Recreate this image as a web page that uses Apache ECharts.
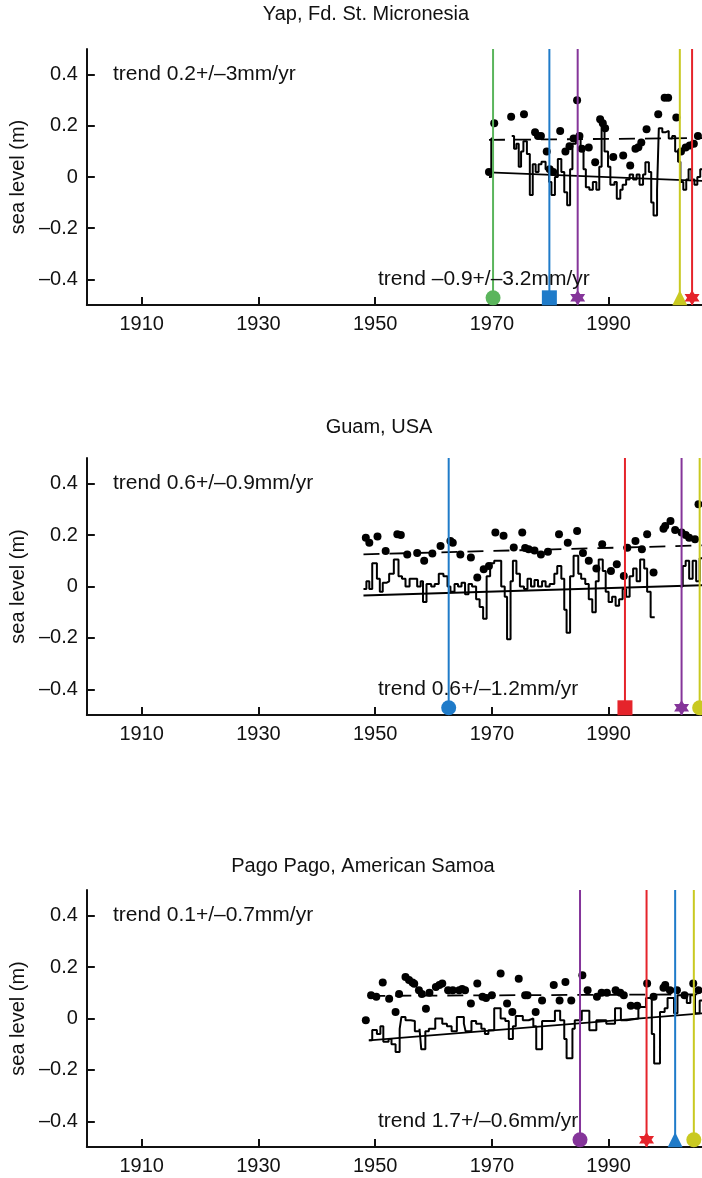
<!DOCTYPE html>
<html>
<head>
<meta charset="utf-8">
<script src="https://cdn.jsdelivr.net/npm/echarts@6/dist/echarts.min.js"></script>
<style>
html, body { margin: 0; padding: 0; background: #fff; }
#chart { width: 702px; height: 1178px; }
</style>
</head>
<body>
<div id="chart"></div>
<script>
// tick labels
var yearTicks = [1910, 1930, 1950, 1970, 1990];
var levelTicks = [-0.4, -0.2, 0, 0.2, 0.4];

// ---- Yap, Fd. St. Micronesia ----
// stepped record: [start year, level], null = gap
var yapSteps = [
  [1969.5, 0.0], [1969.9, 0.15], [1970.3, null],
  [1973.4, 0.16], [1973.8, 0.11], [1974.2, 0.13], [1974.6, 0.04], [1975.0, 0.10], [1975.4, 0.14],
  [1976.0, 0.09], [1976.5, -0.07], [1977.0, 0.05], [1977.5, 0.02], [1978.0, 0.05], [1978.5, 0.06],
  [1979.2, 0.03], [1979.8, -0.02], [1980.2, -0.07], [1980.8, 0.0], [1981.3, 0.07], [1981.9, 0.02],
  [1982.4, -0.06], [1982.9, -0.11], [1983.4, 0.03], [1983.8, 0.13], [1984.4, 0.16], [1985.2, 0.12],
  [1985.7, 0.03], [1986.1, -0.04], [1986.7, -0.05], [1987.3, -0.02], [1987.9, -0.05], [1988.4, 0.04],
  [1988.8, 0.20], [1989.3, 0.10], [1989.9, 0.04], [1990.3, -0.03], [1991.0, -0.02], [1991.4, -0.085],
  [1992.0, -0.05], [1992.4, -0.03], [1993.0, -0.01], [1993.6, 0.01], [1994.2, -0.01], [1994.8, 0.01],
  [1995.3, -0.03], [1995.9, 0.01], [1996.3, 0.058], [1996.9, 0.02], [1997.3, -0.10], [1997.7, -0.15],
  [1998.3, -0.05], [1998.6, 0.19], [1999.2, 0.175], [1999.8, 0.18], [2000.3, 0.15], [2000.9, 0.16],
  [2001.4, 0.10], [2001.9, 0.06], [2002.3, -0.02], [2002.8, -0.05], [2003.3, -0.01], [2003.7, 0.03],
  [2004.2, -0.01], [2004.7, -0.03], [2005.2, 0.0], [2005.7, 0.03], [2006.2, null]
];
var yapDots = [
  [1969.5, 0.02], [1970.4, 0.21], [1973.3, 0.235], [1975.5, 0.245], [1977.4, 0.175], [1977.9, 0.16],
  [1978.4, 0.16], [1979.4, 0.10], [1979.9, 0.03], [1980.5, 0.02], [1981.7, 0.18], [1982.6, 0.10],
  [1983.3, 0.12], [1984.0, 0.15], [1984.6, 0.30], [1985.0, 0.16], [1985.4, 0.11], [1986.6, 0.115],
  [1987.7, 0.058], [1988.55, 0.226], [1989.0, 0.21], [1989.4, 0.19], [1990.8, 0.078], [1992.5, 0.084],
  [1993.7, 0.045], [1994.6, 0.11], [1995.1, 0.116], [1995.6, 0.135], [1996.5, 0.187], [1998.5, 0.245],
  [1999.6, 0.31], [2000.2, 0.31], [2001.6, 0.232], [2002.4, 0.10], [2003.2, 0.115], [2003.9, 0.123],
  [2004.6, 0.13], [2005.3, 0.16]
];
var yapTrend = [[1969.5, 0.018], [2006.2, -0.015]];
var yapUpperTrend = [[1969.5, 0.145], [2006.2, 0.152]];
var yapEvents = [1970.2, 1979.85, 1984.7, 2002.2, 2004.3];

// ---- Guam, USA ----
var guamSteps = [
  [1948.0, -0.01], [1948.5, 0.02], [1949.0, -0.01], [1949.5, 0.09], [1950.3, 0.03], [1950.8, -0.02],
  [1951.3, 0.015], [1952.0, 0.02], [1952.4, 0.05], [1953.2, 0.105], [1954.0, 0.04], [1954.6, 0.03],
  [1955.2, 0.0], [1955.9, 0.03], [1956.6, 0.03], [1957.2, 0.0], [1957.8, 0.02], [1958.2, -0.06],
  [1958.8, 0.01], [1959.6, 0.0], [1960.2, 0.01], [1960.9, 0.05], [1961.7, 0.04], [1962.4, 0.0],
  [1962.9, -0.02], [1963.6, 0.01], [1964.2, 0.0], [1964.8, 0.015], [1965.4, -0.03], [1966.0, 0.01],
  [1966.6, 0.0], [1967.3, -0.05], [1967.9, -0.08], [1968.5, -0.125], [1969.1, 0.04], [1969.7, 0.09],
  [1970.4, 0.10], [1971.6, 0.0], [1972.2, -0.04], [1972.6, -0.205], [1973.2, 0.02], [1973.6, 0.10],
  [1974.2, 0.05], [1974.8, 0.0], [1975.5, -0.01], [1976.1, 0.03], [1976.7, 0.0], [1977.3, 0.025],
  [1977.9, 0.0], [1978.6, 0.02], [1979.2, 0.0], [1979.9, 0.01], [1980.7, 0.05], [1981.2, 0.08],
  [1981.9, 0.03], [1982.4, -0.09], [1982.8, -0.18], [1983.4, 0.04], [1984.0, 0.12], [1984.8, 0.05],
  [1985.3, 0.03], [1986.0, 0.01], [1986.6, -0.05], [1987.2, -0.10], [1987.8, 0.02], [1988.3, 0.105],
  [1989.0, 0.06], [1989.5, -0.02], [1990.0, -0.06], [1990.6, -0.04], [1991.2, -0.075], [1991.8, -0.05],
  [1992.4, -0.01], [1993.0, -0.04], [1993.6, 0.04], [1994.2, 0.07], [1994.8, 0.02], [1995.4, 0.105],
  [1996.1, 0.07], [1996.6, -0.02], [1997.2, -0.12], [1997.9, null],
  [2002.3, 0.0], [2002.7, 0.08], [2003.2, 0.10], [2003.8, 0.03], [2004.4, 0.10], [2005.0, 0.02],
  [2005.6, 0.11], [2006.2, null]
];
var guamDots = [
  [1948.4, 0.19], [1949.0, 0.17], [1950.4, 0.195], [1951.8, 0.138], [1953.8, 0.203], [1954.4, 0.20],
  [1955.5, 0.125], [1957.2, 0.13], [1958.4, 0.10], [1959.8, 0.128], [1961.2, 0.158], [1962.9, 0.177],
  [1963.3, 0.17], [1964.6, 0.125], [1966.4, 0.113], [1967.5, 0.035], [1968.6, 0.067], [1969.5, 0.08],
  [1970.6, 0.21], [1972.0, 0.197], [1973.75, 0.152], [1975.2, 0.21], [1975.7, 0.15], [1976.3, 0.145],
  [1977.3, 0.14], [1978.4, 0.125], [1979.6, 0.135], [1981.5, 0.203], [1983.0, 0.17], [1984.6, 0.216],
  [1985.6, 0.13], [1986.6, 0.10], [1987.9, 0.07], [1988.9, 0.164], [1990.4, 0.06], [1991.4, 0.087],
  [1992.6, 0.041], [1993.2, 0.151], [1994.6, 0.177], [1995.7, 0.145], [1996.6, 0.203], [1997.7, 0.054],
  [1999.4, 0.225], [1999.7, 0.235], [2000.6, 0.255], [2001.4, 0.22], [2002.5, 0.21], [2003.2, 0.20],
  [2003.8, 0.19], [2004.8, 0.184], [2005.4, 0.32]
];
var guamTrend = [[1948.0, -0.035], [2006.2, 0.005]];
var guamUpperTrend = [[1948.0, 0.125], [2006.2, 0.16]];
var guamEvents = [1962.6, 1992.8, 2002.5, 2005.6];

// ---- Pago Pago, American Samoa ----
var pagoSteps = [
  [1948.9, -0.085], [1949.5, -0.045], [1950.3, -0.06], [1950.9, -0.03], [1951.4, -0.09], [1952.3, -0.08],
  [1952.8, -0.10], [1953.5, -0.13], [1954.2, -0.04], [1954.5, 0.006], [1955.2, -0.007], [1956.1, -0.01],
  [1956.8, -0.05], [1957.6, -0.04], [1957.9, -0.12], [1958.6, -0.05], [1959.2, -0.04], [1960.3, 0.0],
  [1961.5, -0.02], [1962.3, -0.03], [1963.1, -0.05], [1964.0, 0.006], [1965.2, -0.02], [1965.5, -0.05],
  [1966.5, -0.01], [1967.3, -0.02], [1968.2, -0.04], [1968.8, -0.06], [1969.4, -0.046], [1970.4, 0.04],
  [1971.5, 0.0], [1972.3, -0.01], [1972.9, -0.08], [1973.6, -0.03], [1974.1, 0.01], [1975.3, -0.007],
  [1976.3, 0.0], [1977.1, -0.03], [1977.6, -0.12], [1978.6, -0.01], [1979.5, -0.01], [1980.8, 0.03],
  [1981.7, -0.007], [1982.4, -0.08], [1982.8, -0.155], [1983.8, -0.04], [1984.2, -0.007], [1985.4, 0.03],
  [1986.7, -0.046], [1987.9, -0.007], [1989.6, -0.02], [1991.1, 0.04], [1992.1, -0.007], [1993.1, 0.0],
  [1995.1, 0.045], [1996.4, 0.08], [1997.4, -0.06], [1997.8, -0.175], [1998.8, 0.025], [1999.6, 0.04],
  [2000.1, 0.08], [2001.2, 0.02], [2001.8, 0.09], [2003.4, 0.06], [2004.0, 0.09], [2004.8, 0.02],
  [2005.6, 0.07], [2006.2, null]
];
var pagoDots = [
  [1948.4, -0.007], [1949.3, 0.09], [1950.2, 0.085], [1951.3, 0.14], [1952.4, 0.077], [1953.5, 0.025],
  [1954.1, 0.095], [1955.2, 0.161], [1955.8, 0.15], [1956.4, 0.14], [1956.7, 0.135], [1957.5, 0.11],
  [1958.0, 0.095], [1958.7, 0.038], [1959.3, 0.10], [1960.4, 0.123], [1961.0, 0.13], [1961.5, 0.136],
  [1962.5, 0.11], [1963.3, 0.11], [1964.4, 0.11], [1964.9, 0.115], [1965.4, 0.11], [1966.4, 0.058],
  [1967.5, 0.136], [1968.4, 0.085], [1969.0, 0.08], [1970.0, 0.09], [1971.5, 0.175], [1972.6, 0.058],
  [1973.5, 0.025], [1974.6, 0.155], [1975.7, 0.09], [1976.1, 0.09], [1977.5, 0.025], [1978.6, 0.07],
  [1980.6, 0.13], [1981.6, 0.07], [1982.6, 0.142], [1983.6, 0.07], [1985.5, 0.168], [1986.4, 0.11],
  [1988.0, 0.085], [1988.8, 0.10], [1989.7, 0.10], [1991.2, 0.11], [1992.0, 0.10], [1992.6, 0.09],
  [1993.8, 0.05], [1994.9, 0.05], [1996.6, 0.136], [1997.7, 0.085], [1999.4, 0.12], [1999.7, 0.13],
  [2000.5, 0.11], [2001.7, 0.11], [2003.0, 0.09], [2004.5, 0.136], [2005.4, 0.11]
];
var pagoTrend = [[1949.0, -0.085], [2006.2, 0.02]];
var pagoUpperTrend = [[1949.0, 0.088], [2006.2, 0.094]];
var pagoEvents = [1985.1, 1996.5, 2001.4, 2004.6];

// colours / markers for the event lines
var GREEN = '#5bb55c', BLUE = '#1f7bc9', PURPLE = '#85359a', YELLOW = '#c9c921', RED = '#e5242b';
var STAR = 'path://M0,-10 L2.9,-5 L8.7,-5 L5.8,0 L8.7,5 L2.9,5 L0,10 L-2.9,5 L-8.7,5 L-5.8,0 L-8.7,-5 L-2.9,-5 Z';
var FONT = '"Liberation Sans", Arial, Helvetica, sans-serif';
var INK = '#111';

var panels = [
    {
        title: 'Yap, Fd. St. Micronesia', titleX: 366, titleY: 14, top: 49, height: 256,
        steps: yapSteps, dots: yapDots, trend: yapTrend, upper: yapUpperTrend, events: yapEvents,
        look: [[GREEN, 'circle'], [BLUE, 'rect'], [PURPLE, STAR], [YELLOW, 'triangle'], [RED, STAR]],
        textUp: 'trend 0.2+/\u20133mm/yr', textLow: 'trend \u20130.9+/\u20133.2mm/yr'
    },
    {
        title: 'Guam, USA', titleX: 379, titleY: 427, top: 458, height: 257,
        steps: guamSteps, dots: guamDots, trend: guamTrend, upper: guamUpperTrend, events: guamEvents,
        look: [[BLUE, 'circle'], [RED, 'rect'], [PURPLE, STAR], [YELLOW, 'circle']],
        textUp: 'trend 0.6+/\u20130.9mm/yr', textLow: 'trend 0.6+/\u20131.2mm/yr'
    },
    {
        title: 'Pago Pago, American Samoa', titleX: 363, titleY: 866, top: 890, height: 257,
        steps: pagoSteps, dots: pagoDots, trend: pagoTrend, upper: pagoUpperTrend, events: pagoEvents,
        look: [[PURPLE, 'circle'], [RED, STAR], [BLUE, 'triangle'], [YELLOW, 'circle']],
        textUp: 'trend 0.1+/\u20130.7mm/yr', textLow: 'trend 1.7+/\u20130.6mm/yr'
    }
];

// turn [start, value] pairs into a stair polyline, breaking at nulls
function stairs(steps) {
    var out = [];
    for (var i = 0; i < steps.length - 1; i++) {
        if (steps[i][1] === null) {
            out.push('-');
            continue;
        }
        out.push([steps[i][0], steps[i][1]]);
        out.push([steps[i + 1][0], steps[i][1]]);
    }
    return out;
}

function fmtLevel(v) {
    if (v === 0) return '0';
    return v < 0 ? '\u2013' + (-v) : String(v);
}

var grids = [], xAxes = [], yAxes = [], series = [], graphics = [];

panels.forEach(function (p, i) {
    grids.push({ left: 85, top: p.top, width: 617, height: p.height });
    xAxes.push({
        type: 'value', gridIndex: i, min: 1900.6, max: 2006,
        axisLine: { onZero: false, lineStyle: { color: INK, width: 2 } },
        axisTick: { inside: true, length: 8, customValues: yearTicks, lineStyle: { color: INK, width: 2 } },
        axisLabel: {
            customValues: yearTicks, margin: 9, fontSize: 20, color: INK, fontFamily: FONT,
            formatter: function (v) { return String(v); }
        },
        splitLine: { show: false }
    });
    yAxes.push({
        type: 'value', gridIndex: i, min: -0.5, max: 0.5,
        name: 'sea level (m)', nameLocation: 'middle', nameGap: 57,
        nameTextStyle: { fontSize: 20, color: INK, fontFamily: FONT },
        axisLine: { onZero: false, lineStyle: { color: INK, width: 2 } },
        axisTick: { inside: true, length: 8, customValues: levelTicks, lineStyle: { color: INK, width: 2 } },
        axisLabel: { customValues: levelTicks, margin: 9, fontSize: 20, color: INK, fontFamily: FONT, formatter: fmtLevel },
        splitLine: { show: false }
    });

    series.push({
        type: 'line', xAxisIndex: i, yAxisIndex: i, data: p.upper, symbol: 'none', silent: true,
        lineStyle: { color: '#000', width: 1.8, type: [16, 10] }, z: 2
    });
    series.push({
        type: 'line', xAxisIndex: i, yAxisIndex: i, data: p.trend, symbol: 'none', silent: true,
        lineStyle: { color: '#000', width: 1.8 }, z: 2
    });
    series.push({
        type: 'line', xAxisIndex: i, yAxisIndex: i, data: stairs(p.steps), symbol: 'none', silent: true,
        connectNulls: false, lineStyle: { color: '#000', width: 2 }, z: 3
    });
    series.push({
        type: 'scatter', xAxisIndex: i, yAxisIndex: i, data: p.dots, symbol: 'circle', symbolSize: 8,
        itemStyle: { color: '#000', opacity: 1 }, silent: true, z: 4
    });

    var marks = [];
    p.events.forEach(function (yr, k) {
        var col = p.look[k][0];
        series.push({
            type: 'line', xAxisIndex: i, yAxisIndex: i, data: [[yr, -0.5], [yr, 0.5]], symbol: 'none',
            silent: true, lineStyle: { color: col, width: 2 }, z: 5
        });
        marks.push({ value: [yr, -0.472], symbol: p.look[k][1], itemStyle: { color: col, opacity: 1 } });
    });
    series.push({
        type: 'scatter', xAxisIndex: i, yAxisIndex: i, data: marks, symbolSize: 15, silent: true, clip: false, z: 6
    });

    var zeroY = p.top + p.height / 2;
    var scale = p.height;
    graphics.push({
        type: 'text', x: p.titleX, y: p.titleY,
        style: { text: p.title, fontSize: 20, fill: INK, fontFamily: FONT, align: 'center', verticalAlign: 'middle' }
    });
    graphics.push({
        type: 'text', x: 113, y: zeroY - 0.4 * scale,
        style: { text: p.textUp, fontSize: 21, fill: INK, fontFamily: FONT, align: 'left', verticalAlign: 'middle' }
    });
    graphics.push({
        type: 'text', x: 378, y: zeroY + 0.4 * scale, z: 10,
        style: { text: p.textLow, fontSize: 21, fill: INK, fontFamily: FONT, align: 'left', verticalAlign: 'middle' }
    });
});

var mychart = echarts.init(document.getElementById('chart'));
mychart.setOption({
    animation: false,
    backgroundColor: '#fff',
    grid: grids,
    xAxis: xAxes,
    yAxis: yAxes,
    series: series,
    graphic: graphics
});
</script>
</body>
</html>
